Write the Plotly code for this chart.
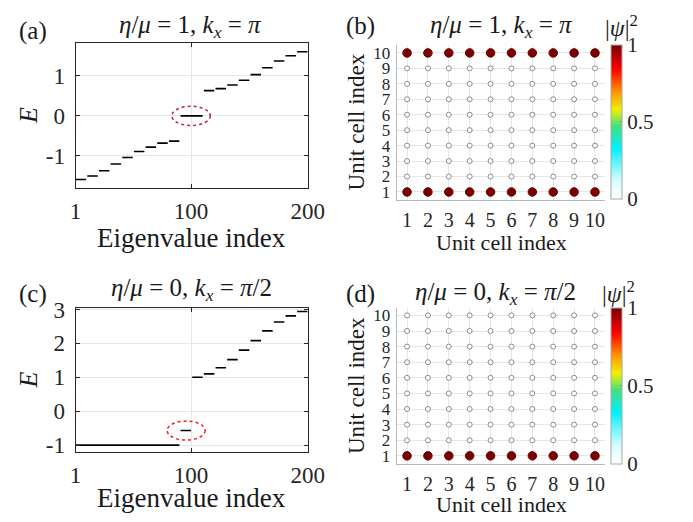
import plotly.graph_objects as go
import numpy as np

# ---------------- data ----------------
# panel (a): eta/mu = 1, kx = pi  -> degenerate energy levels and their multiplicities
a_levels = [-1.59, -1.50, -1.37, -1.20, -1.04, -0.89, -0.78, -0.68, -0.63,
            0.0,
            0.63, 0.68, 0.77, 0.89, 1.03, 1.20, 1.37, 1.50, 1.60]
a_counts = [10, 10, 10, 10, 10, 10, 10, 10, 10,
            20,
            10, 10, 10, 10, 10, 10, 10, 10, 10]

# panel (c): eta/mu = 0, kx = pi/2
c_levels = [-1.0, -0.57,
            1.00, 1.10, 1.28, 1.52, 1.80, 2.08, 2.37, 2.63, 2.81, 2.94]
c_counts = [90, 10,
            10, 10, 10, 10, 10, 10, 10, 10, 10, 10]

# highlighted (edge) states: centre index, centre energy, half widths
a_hl = [100, 0.0, 16.5, 0.24]
c_hl = [95.8, -0.57, 16.3, 0.28]

# panels (b), (d): |psi|^2 on a 10x10 grid of unit cells (rows = y index)
cells = list(range(1, 11))
b_rows = [1, 0, 0, 0, 0, 0, 0, 0, 0, 1]   # rows 1..10
d_rows = [1, 0, 0, 0, 0, 0, 0, 0, 0, 0]

x_ticks_E = [1, 100, 200]
a_yticks = [-1, 0, 1]
c_yticks = [-1, 0, 1, 2, 3]

W, H = 693, 522
FONT = "Liberation Serif"
AX = "#262626"
GRID = "#e6e6e6"


def px(v):
    return v / W


def py(v):
    return 1 - v / H


def segments(levels, counts):
    xs, ys = [], []
    start = 1
    for lv, n in zip(levels, counts):
        idx = list(range(start, start + n))
        xs += idx + [None]
        ys += [lv] * n + [None]
        start += n
    return xs, ys


fig = go.Figure()

ax_, ay_ = segments(a_levels, a_counts)
cx_, cy_ = segments(c_levels, c_counts)
fig.add_trace(go.Scatter(x=ax_, y=ay_, mode="lines", line=dict(color="black", width=1.6),
                         xaxis="x", yaxis="y", showlegend=False, hoverinfo="skip"))
fig.add_trace(go.Scatter(x=cx_, y=cy_, mode="lines", line=dict(color="black", width=1.6),
                         xaxis="x3", yaxis="y3", showlegend=False, hoverinfo="skip"))

cscale = [[0.0, "#ffffff"], [0.12, "#d8fbff"], [0.33, "#00f0ff"], [0.47, "#40e080"],
          [0.58, "#f0f000"], [0.70, "#ff9000"], [0.84, "#ff0000"], [1.0, "#780000"]]


def grid_trace(rows, xa, ya, cb_top, cb_bot):
    gx, gy, gv = [], [], []
    for r, val in zip(cells, rows):
        for c in cells:
            gx.append(c)
            gy.append(r)
            gv.append(val)
    gv = np.array(gv, dtype=float)
    sizes = 5 + 3.5 * gv
    lcol = ["#6a0000" if v > 0.5 else "#8c8c8c" for v in gv]
    return go.Scatter(
        x=gx, y=gy, mode="markers", xaxis=xa, yaxis=ya, showlegend=False, hoverinfo="skip",
        marker=dict(size=sizes, color=gv, colorscale=cscale, cmin=0, cmax=1, opacity=1,
                    line=dict(color=lcol, width=1),
                    colorbar=dict(x=px(626), xanchor="left", y=py(cb_top), yanchor="top",
                                  len=(cb_bot - cb_top) / H, lenmode="fraction",
                                  thickness=11, xpad=0, ypad=0,
                                  outlinecolor="#a8a8a8", outlinewidth=1,
                                  tickvals=[0, 0.5, 1], ticktext=["0", "0.5", "1"],
                                  ticks="inside", ticklen=2, tickcolor="#888",
                                  tickfont=dict(family=FONT, size=21, color=AX))))


fig.add_trace(grid_trace(b_rows, "x2", "y2", 35.7, 194.3))
fig.add_trace(grid_trace(d_rows, "x4", "y4", 307, 467.7))

# axes
def e_xaxis(dom, anchor):
    return dict(domain=dom, anchor=anchor, range=[1, 200], tickvals=x_ticks_E,
                ticks="inside", ticklen=4, tickcolor=AX, mirror="ticks", showline=True,
                linecolor=AX, linewidth=1, showgrid=True, gridcolor=GRID, zeroline=False,
                tickfont=dict(family=FONT, size=23, color=AX), ticklabelstandoff=2)


def e_yaxis(dom, anchor, rng, tv):
    return dict(domain=dom, anchor=anchor, range=rng, tickvals=tv, ticktext=[str(t) for t in tv],
                ticks="inside", ticklen=4, tickcolor=AX, mirror="ticks", showline=True,
                linecolor=AX, linewidth=1, showgrid=True, gridcolor=GRID, zeroline=False,
                tickfont=dict(family=FONT, size=23, color=AX), ticklabelstandoff=5)


def g_axis(dom, anchor, size):
    return dict(domain=dom, anchor=anchor, range=[0.5, 10.5], tickvals=cells,
                ticks="", showline=True, linecolor="#b8b8b8", linewidth=1, mirror=False,
                showgrid=True, gridcolor=GRID, zeroline=False,
                tickfont=dict(family=FONT, size=size, color=AX), ticklabelstandoff=2)


fig.update_layout(
    width=W, height=H, margin=dict(l=0, r=0, t=0, b=0),
    paper_bgcolor="white", plot_bgcolor="white",
    xaxis=e_xaxis([px(72), px(312)], "y"),
    yaxis=e_yaxis([py(184), py(34)], "x", [-1.81, 1.82], a_yticks),
    xaxis3=e_xaxis([px(72), px(312)], "y3"),
    yaxis3=e_yaxis([py(456), py(307)], "x3", [-1.203, 3.055], c_yticks),
    xaxis2=g_axis([px(404), px(620)], "y2", 20),
    yaxis2=g_axis([py(195.7), py(36.3)], "x2", 17),
    xaxis4=g_axis([px(404), px(620)], "y4", 20),
    yaxis4=g_axis([py(468), py(307)], "x4", 17),
)

# highlight ellipses
for hl, xr, yr, col in [(a_hl, "x", "y", "#b8243c"), (c_hl, "x3", "y3", "#ff1a1a")]:
    fig.add_shape(type="circle", xref=xr, yref=yr,
                  x0=hl[0] - hl[2], x1=hl[0] + hl[2], y0=hl[1] - hl[3], y1=hl[1] + hl[3],
                  line=dict(color=col, width=1.5, dash="dot"))

# text
title_a = "<i>η</i>/<i>μ</i>&nbsp;=&nbsp;1,&nbsp;<i>k<sub>x</sub></i>&nbsp;=&nbsp;<i>π</i>"
title_c = "<i>η</i>/<i>μ</i>&nbsp;=&nbsp;0,&nbsp;<i>k<sub>x</sub></i>&nbsp;=&nbsp;<i>π</i>/2"
psi = "|<i>ψ</i>|<sup>2</sup>"

ann = [
    ("(a)", 28, 22, 25, 0), ("(b)", 367, 17, 25, 0), ("(c)", 28, 293, 25, 0), ("(d)", 367, 293, 25, 0),
    (title_a, 191, 17, 25, 0), (title_a, 512, 17, 25, 0),
    (title_c, 192, 288, 25, 0), (title_c, 506, 292, 25, 0),
    (psi, 637, 16, 24, 0), (psi, 634, 291, 24, 0),
    ("Eigenvalue index", 192, 235, 27, 0), ("Eigenvalue index", 192, 503, 27, 0),
    ("Unit cell index", 512, 240, 22, 0), ("Unit cell index", 512, 510, 22, 0),
    ("<i>E</i>", 23, 109, 26, -90), ("<i>E</i>", 23, 382, 26, -90),
    ("Unit cell index", 362, 115, 23, -90), ("Unit cell index", 362, 387, 23, -90),
]
for t, x, y, s, ang in ann:
    fig.add_annotation(text=t, x=px(x), y=py(y), xref="paper", yref="paper",
                       xanchor="center", yanchor="middle", showarrow=False, textangle=ang,
                       font=dict(family=FONT, size=s, color="#1a1a1a"))

fig.write_html("out.html")
